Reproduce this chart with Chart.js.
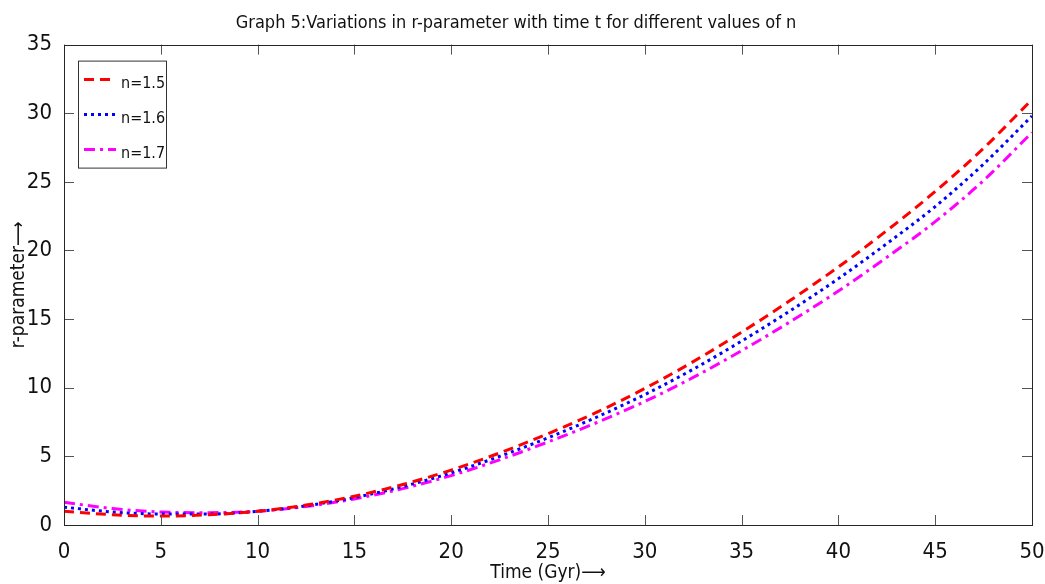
<!DOCTYPE html>
<html>
<head>
<meta charset="utf-8">
<script src="https://cdn.jsdelivr.net/npm/chart.js@4/dist/chart.umd.min.js"></script>
<style>
  html, body { margin: 0; padding: 0; background: #fff; }
  #wrap { width: 1045px; height: 584px; }
</style>
</head>
<body>
<div id="wrap"><canvas id="rchart" width="1045" height="584"></canvas></div>
<script>
// time (Gyr)
const times = [0, 2.5, 5, 7.5, 10, 12.5, 15, 17.5, 20, 22.5, 25, 27.5, 30, 32.5, 35, 37.5, 40, 42.5, 45, 47.5, 50];
// r-parameter
const rN15 = [1.0, 0.75, 0.65, 0.75, 1.0, 1.45, 2.1, 2.95, 4.0, 5.25, 6.65, 8.2, 9.95, 11.9, 14.05, 16.35, 18.8, 21.45, 24.3, 27.45, 31.0];
const rN16 = [1.3, 0.95, 0.8, 0.8, 1.0, 1.4, 2.0, 2.8, 3.8, 5.0, 6.35, 7.85, 9.5, 11.35, 13.4, 15.6, 17.95, 20.5, 23.2, 26.3, 29.8];
const rN17 = [1.65, 1.2, 0.95, 0.9, 1.0, 1.35, 1.9, 2.65, 3.6, 4.75, 6.05, 7.45, 9.0, 10.75, 12.7, 14.8, 17.05, 19.5, 22.1, 25.1, 28.6];
const seriesLabels = ['n=1.5', 'n=1.6', 'n=1.7'];
const xTicks = [0, 5, 10, 15, 20, 25, 30, 35, 40, 45, 50];
const yTicks = [0, 5, 10, 15, 20, 25, 30, 35];

const FONT = "'DejaVu Sans Condensed', 'Liberation Sans Narrow', 'DejaVu Sans', sans-serif";

function pts(ys) {
    return times.map((t, i) => ({ x: t, y: ys[i] }));
}

// inward ticks on all four sides + box, like matlab
const boxTicks = {
    id: 'boxTicks',
    afterDraw(chart) {
        const ctx = chart.ctx;
        const a = chart.chartArea;
        const xs = chart.scales.x, ys = chart.scales.y;
        ctx.save();
        ctx.strokeStyle = '#555';
        ctx.lineWidth = 1;
        ctx.beginPath();
        xTicks.forEach(v => {
            const px = Math.round(xs.getPixelForValue(v)) + 0.5;
            ctx.moveTo(px, a.bottom); ctx.lineTo(px, a.bottom - 10);
            ctx.moveTo(px, a.top); ctx.lineTo(px, a.top + 10);
        });
        yTicks.forEach(v => {
            const py = Math.round(ys.getPixelForValue(v)) + 0.5;
            ctx.moveTo(a.left, py); ctx.lineTo(a.left + 10, py);
            ctx.moveTo(a.right, py); ctx.lineTo(a.right - 10, py);
        });
        ctx.stroke();
        ctx.strokeStyle = '#262626';
        ctx.strokeRect(Math.round(a.left) + 0.5, Math.round(a.top) + 0.5,
            Math.round(a.right - a.left), Math.round(a.bottom - a.top));

        // legend box in the top-left corner
        const lx = a.left + 14, ly = a.top + 16, lw = 88, lh = 107;
        ctx.fillStyle = '#fff';
        ctx.fillRect(lx, ly, lw, lh);
        ctx.strokeStyle = '#333';
        ctx.strokeRect(lx + 0.5, ly + 0.5, lw, lh);
        ctx.font = '16px ' + FONT;
        ctx.textBaseline = 'middle';
        chart.data.datasets.forEach((ds, i) => {
            const yy = ly + 19 + i * 35;
            ctx.beginPath();
            ctx.strokeStyle = ds.borderColor;
            ctx.lineWidth = 3;
            ctx.setLineDash(ds.borderDash);
            ctx.moveTo(lx + 6, yy);
            ctx.lineTo(lx + 38, yy);
            ctx.stroke();
            ctx.setLineDash([]);
            ctx.fillStyle = '#111';
            ctx.fillText(ds.label, lx + 43, yy + 4);
        });
        ctx.restore();
    }
};

const ctx = document.getElementById('rchart').getContext('2d');
const rChart = new Chart(ctx, {
    type: 'line',
    data: {
        datasets: [
            { label: seriesLabels[0], data: pts(rN15), borderColor: '#ff0000', borderDash: [10, 6], borderWidth: 3 },
            { label: seriesLabels[1], data: pts(rN16), borderColor: '#0000ff', borderDash: [3, 4], borderWidth: 3 },
            { label: seriesLabels[2], data: pts(rN17), borderColor: '#ff00ff', borderDash: [11, 5, 3, 5], borderWidth: 3 },
        ]
    },
    options: {
        responsive: false,
        animation: false,
        layout: { padding: { left: 0, right: 13, top: 0, bottom: 0 } },
        elements: { point: { radius: 0 }, line: { cubicInterpolationMode: 'monotone', fill: false } },
        plugins: {
            legend: { display: false },
            tooltip: { enabled: false },
            title: {
                display: true,
                text: 'Graph 5:Variations in r-parameter with time t for different values of n',
                color: '#111',
                font: { family: FONT, size: 18, weight: 'normal', lineHeight: 1.2 },
                padding: { top: 13, bottom: 10 },
            },
        },
        scales: {
            x: {
                type: 'linear',
                min: 0, max: 50,
                afterBuildTicks: (s) => { s.ticks = xTicks.map(v => ({ value: v })); },
                afterFit: (s) => { s.height = 59; s.paddingLeft = 0; s.paddingRight = 0; },
                grid: { display: false },
                border: { display: false },
                ticks: { color: '#111', padding: 6, maxRotation: 0, font: { family: FONT, size: 22 } },
                title: { display: true, text: 'Time (Gyr)⟶', color: '#111', padding: 0,
                    font: { family: FONT, size: 19 } },
            },
            y: {
                min: 0, max: 35,
                afterBuildTicks: (s) => { s.ticks = yTicks.map(v => ({ value: v })); },
                afterFit: (s) => { s.width = 64; },
                grid: { display: false },
                border: { display: false },
                ticks: { color: '#111', padding: 4, font: { family: FONT, size: 22 } },
                title: { display: true, text: 'r-parameter⟶', color: '#111', padding: { top: 8, bottom: 0 },
                    font: { family: FONT, size: 19 } },
            }
        }
    },
    plugins: [boxTicks]
});
</script>
</body>
</html>
